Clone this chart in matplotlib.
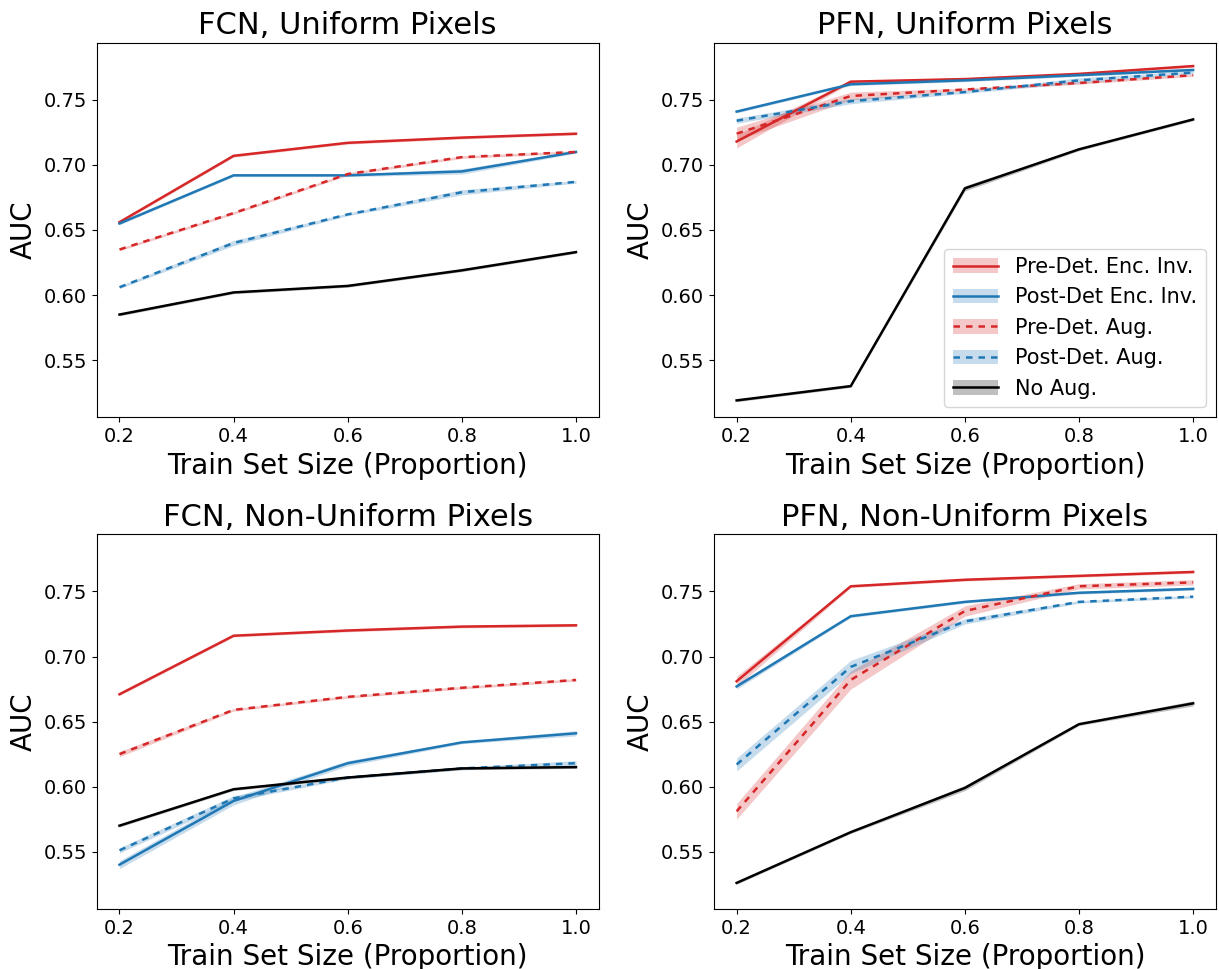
import numpy as np
import matplotlib
matplotlib.use("Agg")
import matplotlib.pyplot as plt
from matplotlib.lines import Line2D
from matplotlib.patches import Patch

sizes = [0.2, 0.4, 0.6, 0.8, 1.0]

methods = ["Pre-Det. Enc. Inv.", "Post-Det Enc. Inv.", "Pre-Det. Aug.",
           "Post-Det. Aug.", "No Aug."]
colors = ["#d62728", "#1f77b4", "#d62728", "#1f77b4", "black"]
styles = ["-", "-", (0, (2.6, 2.4)), (0, (2.6, 2.4)), "-"]

# mean AUC per method, one row per method (order as in `methods`)
fcn_uniform = [
    [0.656, 0.707, 0.717, 0.721, 0.724],
    [0.655, 0.692, 0.692, 0.695, 0.710],
    [0.635, 0.663, 0.693, 0.706, 0.710],
    [0.606, 0.640, 0.662, 0.679, 0.687],
    [0.585, 0.602, 0.607, 0.619, 0.633],
]
pfn_uniform = [
    [0.718, 0.764, 0.766, 0.770, 0.776],
    [0.741, 0.762, 0.765, 0.769, 0.773],
    [0.724, 0.753, 0.758, 0.763, 0.769],
    [0.734, 0.749, 0.756, 0.765, 0.771],
    [0.519, 0.530, 0.682, 0.712, 0.735],
]
fcn_nonuniform = [
    [0.671, 0.716, 0.720, 0.723, 0.724],
    [0.540, 0.589, 0.618, 0.634, 0.641],
    [0.625, 0.659, 0.669, 0.676, 0.682],
    [0.551, 0.591, 0.607, 0.614, 0.618],
    [0.570, 0.598, 0.607, 0.614, 0.615],
]
pfn_nonuniform = [
    [0.681, 0.754, 0.759, 0.762, 0.765],
    [0.677, 0.731, 0.742, 0.749, 0.752],
    [0.581, 0.682, 0.735, 0.754, 0.757],
    [0.617, 0.692, 0.727, 0.742, 0.746],
    [0.526, 0.565, 0.599, 0.648, 0.664],
]

# half-width of the shaded band around each mean
fcn_uniform_err = [
    [0.001, 0.001, 0.001, 0.001, 0.001],
    [0.001, 0.001, 0.001, 0.002, 0.001],
    [0.001, 0.001, 0.001, 0.001, 0.001],
    [0.001, 0.002, 0.001, 0.002, 0.001],
    [0.001, 0.001, 0.001, 0.001, 0.001],
]
pfn_uniform_err = [
    [0.005, 0.001, 0.001, 0.001, 0.001],
    [0.001, 0.001, 0.001, 0.001, 0.001],
    [0.005, 0.003, 0.001, 0.001, 0.001],
    [0.002, 0.002, 0.001, 0.002, 0.001],
    [0.001, 0.001, 0.002, 0.001, 0.001],
]
fcn_nonuniform_err = [
    [0.001, 0.001, 0.001, 0.001, 0.001],
    [0.003, 0.003, 0.002, 0.001, 0.002],
    [0.002, 0.001, 0.001, 0.001, 0.001],
    [0.002, 0.002, 0.001, 0.001, 0.002],
    [0.001, 0.001, 0.001, 0.001, 0.001],
]
pfn_nonuniform_err = [
    [0.004, 0.001, 0.001, 0.001, 0.001],
    [0.002, 0.001, 0.001, 0.001, 0.001],
    [0.006, 0.007, 0.004, 0.002, 0.002],
    [0.005, 0.005, 0.002, 0.001, 0.001],
    [0.001, 0.001, 0.002, 0.001, 0.002],
]

panels = [
    ("FCN, Uniform Pixels", fcn_uniform, fcn_uniform_err),
    ("PFN, Uniform Pixels", pfn_uniform, pfn_uniform_err),
    ("FCN, Non-Uniform Pixels", fcn_nonuniform, fcn_nonuniform_err),
    ("PFN, Non-Uniform Pixels", pfn_nonuniform, pfn_nonuniform_err),
]

fig, axes = plt.subplots(2, 2, figsize=(12.19, 9.69), dpi=100)
fig.subplots_adjust(left=0.0793, right=0.9975, top=0.956, bottom=0.062,
                    wspace=0.229, hspace=0.312)

for ax, (title, means, errs) in zip(axes.flat, panels):
    for i in range(len(methods)):
        m = np.array(means[i])
        e = np.array(errs[i])
        ax.fill_between(sizes, m - e, m + e, color=colors[i], alpha=0.25, lw=0)
        ax.plot(sizes, m, color=colors[i], linestyle=styles[i], lw=1.8)
    ax.set_title(title, fontsize=22)
    ax.set_xlabel("Train Set Size (Proportion)", fontsize=20)
    ax.set_ylabel("AUC", fontsize=20)
    ax.set_xticks(sizes)
    ax.set_yticks([0.55, 0.60, 0.65, 0.70, 0.75])
    ax.set_ylim(0.506, 0.794)
    ax.tick_params(labelsize=14)

handles = []
for i in range(len(methods)):
    band = Patch(facecolor=colors[i], alpha=0.25, lw=0)
    line = Line2D([], [], color=colors[i], linestyle=styles[i], lw=1.8)
    handles.append((band, line))
axes[0, 1].legend(handles, methods, loc="lower right", fontsize=15,
                  handlelength=2.2)

fig.savefig("out.png", dpi=100)
